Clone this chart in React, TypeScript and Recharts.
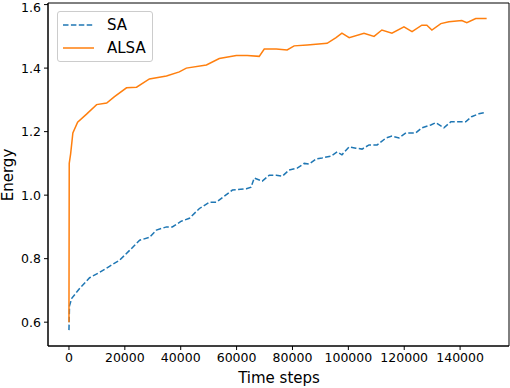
import { LineChart, Line, XAxis, YAxis, ReferenceArea } from "recharts";

// ALSA run (orange)
const alsaSteps = [
  0, 100, 600, 1400, 3100, 6300, 9900, 13500, 16300, 20600, 24200, 28800,
  34900, 39500, 42000, 49200, 53800, 59900, 63800, 68100, 69900, 74200,
  78100, 80600, 85300, 92400, 95600, 97700, 100300, 105600, 109200, 112000,
  115600, 119900, 122800, 126300, 128100, 129900, 133100, 136000, 140600,
  142400, 145600, 149500,
];
const alsaEnergy = [
  0.6, 1.1, 1.13, 1.196, 1.23, 1.255, 1.285, 1.29, 1.31, 1.338, 1.34, 1.366,
  1.375, 1.388, 1.4, 1.41, 1.43, 1.44, 1.44, 1.437, 1.46, 1.46, 1.457, 1.47,
  1.473, 1.478, 1.496, 1.51, 1.496, 1.51, 1.5, 1.52, 1.51, 1.53, 1.515, 1.535,
  1.535, 1.52, 1.54, 1.546, 1.55, 1.543, 1.556, 1.556,
];

// SA run (blue, dashed)
const saSteps = [
  0, 200, 1000, 3800, 7400, 11000, 14500, 18100, 21700, 25300, 28800, 31300,
  34900, 37000, 40200, 43100, 46700, 50300, 52800, 58500, 63500, 65200, 66300,
  69200, 71700, 74200, 76400, 78800, 81700, 84200, 86000, 88500, 90600, 93800,
  96000, 97700, 100300, 102700, 104900, 107400, 110300, 113500, 115600, 118100,
  120600, 124100, 126300, 129500, 131300, 134200, 136700, 139500, 142000,
  144100, 146700, 148800,
];
const saEnergy = [
  0.575, 0.652, 0.675, 0.706, 0.74, 0.757, 0.776, 0.795, 0.826, 0.858, 0.867,
  0.89, 0.9, 0.9, 0.918, 0.927, 0.958, 0.978, 0.978, 1.016, 1.02, 1.025, 1.054,
  1.044, 1.063, 1.063, 1.06, 1.079, 1.085, 1.1, 1.098, 1.114, 1.117, 1.123,
  1.136, 1.127, 1.152, 1.148, 1.145, 1.158, 1.158, 1.18, 1.186, 1.18, 1.196,
  1.196, 1.212, 1.221, 1.228, 1.212, 1.231, 1.231, 1.231, 1.247, 1.256, 1.26,
];

const xTicks = [0, 20000, 40000, 60000, 80000, 100000, 120000, 140000];
const yTicks = [0.6, 0.8, 1.0, 1.2, 1.4, 1.6];

const alsaData = alsaSteps.map((step, i) => ({ step, energy: alsaEnergy[i] }));
const saData = saSteps.map((step, i) => ({ step, energy: saEnergy[i] }));

const FONT = "'DejaVu Sans', sans-serif";
const BLUE = "#1f77b4";
const ORANGE = "#ff7f0e";
const X_DOMAIN: [number, number] = [-7500, 157500];
const Y_DOMAIN: [number, number] = [0.525, 1.605];

function LegendBox() {
  const rows = [
    { name: "SA", color: BLUE, dash: "5.5 2.4", top: 13 },
    { name: "ALSA", color: ORANGE, dash: undefined, top: 36 },
  ];
  return (
    <div
      style={{
        position: "absolute",
        left: 57,
        top: 11,
        width: 94,
        height: 49,
        border: "1px solid #cccccc",
        borderRadius: 3,
        background: "rgba(255,255,255,0.8)",
        fontFamily: FONT,
        fontSize: 15,
        color: "#000",
      }}
    >
      {rows.map((r) => (
        <div key={r.name}>
          <svg
            width={32}
            height={4}
            style={{ position: "absolute", left: 5, top: r.top - 2 }}
          >
            <line
              x1={0}
              y1={2}
              x2={31}
              y2={2}
              stroke={r.color}
              strokeWidth={1.5}
              strokeDasharray={r.dash}
            />
          </svg>
          <span
            style={{
              position: "absolute",
              left: 49,
              top: r.top - 9,
              lineHeight: "18px",
            }}
          >
            {r.name}
          </span>
        </div>
      ))}
    </div>
  );
}

export default function App() {
  return (
    <div
      style={{
        position: "absolute",
        left: 0,
        top: 0,
        width: 510,
        height: 388,
        background: "#fff",
      }}
    >
      <LineChart
        width={510}
        height={388}
        margin={{ top: 3, right: 1, bottom: 0, left: 0 }}
      >
        <XAxis
          type="number"
          dataKey="step"
          domain={X_DOMAIN}
          ticks={xTicks}
          allowDataOverflow
          height={42}
          tickSize={4}
          tickMargin={3}
          stroke="#000"
          tick={{ fill: "#000", fontSize: 12.5, fontFamily: FONT }}
          axisLine={{ stroke: "#000" }}
          tickLine={{ stroke: "#000" }}
          label={() => (
            <text
              x={279}
              y={383}
              textAnchor="middle"
              fontFamily={FONT}
              fontSize={15}
              fill="#000"
            >
              Time steps
            </text>
          )}
        />
        <YAxis
          type="number"
          domain={Y_DOMAIN}
          ticks={yTicks}
          allowDataOverflow
          width={48}
          tickSize={4}
          tickMargin={3}
          tickFormatter={(v: number) => v.toFixed(1)}
          tick={{ fill: "#000", fontSize: 12.5, fontFamily: FONT }}
          axisLine={{ stroke: "#000" }}
          tickLine={{ stroke: "#000" }}
          label={() => (
            <text
              x={12.5}
              y={175}
              transform="rotate(-90 12.5 175)"
              textAnchor="middle"
              fontFamily={FONT}
              fontSize={15}
              fill="#000"
            >
              Energy
            </text>
          )}
        />
        <ReferenceArea
          x1={X_DOMAIN[0]}
          x2={X_DOMAIN[1]}
          y1={Y_DOMAIN[0]}
          y2={Y_DOMAIN[1]}
          fill="none"
          stroke="#000"
          strokeWidth={1}
          ifOverflow="visible"
        />
        <Line
          data={saData}
          dataKey="energy"
          type="linear"
          stroke={BLUE}
          strokeWidth={1.5}
          strokeDasharray="5.5 2.4"
          dot={false}
          isAnimationActive={false}
        />
        <Line
          data={alsaData}
          dataKey="energy"
          type="linear"
          stroke={ORANGE}
          strokeWidth={1.5}
          dot={false}
          isAnimationActive={false}
        />
      </LineChart>
      <LegendBox />
    </div>
  );
}
